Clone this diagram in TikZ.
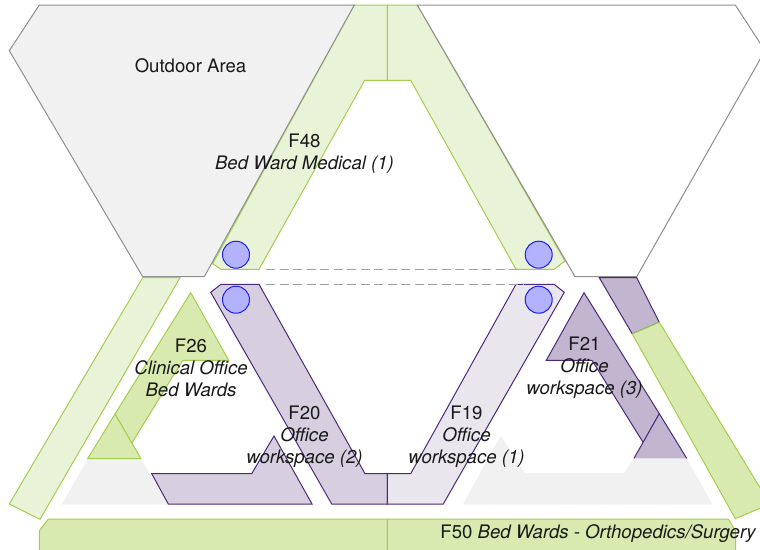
\documentclass[tikz,border=0pt]{standalone}
\usepackage{fontspec}
\setmainfont{TeX Gyre Heros}
\definecolor{grn}{HTML}{A4CE4E}
\definecolor{grnA}{HTML}{E9F3D7}
\definecolor{grnB}{HTML}{D8EAB0}
\definecolor{pur}{HTML}{4B2A7B}
\definecolor{purA}{HTML}{E9E6EE}
\definecolor{purB}{HTML}{D7CFE0}
\definecolor{purC}{HTML}{C1B5D0}
\definecolor{gryS}{HTML}{8F8F8F}
\definecolor{gryF}{HTML}{F1F1F1}
\definecolor{liftS}{HTML}{1E1EF0}
\definecolor{liftF}{HTML}{B2B2FF}
\tikzset{
  x=1pt,y=-1pt,
  outdoor/.style={draw=gryS,fill=gryF},
  blank/.style={draw=gryS,fill=white},
  ground/.style={fill=gryF,draw=none},
  greenA/.style={draw=grn,fill=grnA},
  greenB/.style={draw=grn,fill=grnB},
  purpleA/.style={draw=pur,fill=purA},
  purpleB/.style={draw=pur,fill=purB},
  purpleC/.style={draw=pur,fill=purC},
  lift/.style={circle,draw=liftS,fill=liftF,minimum size=27pt,inner sep=0pt},
  link/.style={draw=gryS!85,dash pattern=on 9pt off 4.5pt,line width=1pt},
  lab/.style={font=\fontsize{18.6}{22}\selectfont,align=center,inner sep=0pt,text=black!90}
}
\begin{document}
\begin{tikzpicture}[line width=1pt]
\useasboundingbox (0,0) rectangle (760,549);
\begin{scope}
\clip (0,0) rectangle (760,549);
% ground
\path[ground] (87.7,458.7) -- (61.7,504.7) -- (168.3,504.7) -- (141,458.7) -- cycle;
\path[ground] (500.7,435.7) -- (525,473) -- (624.3,473) -- (634,458.3) -- (686.7,458.3) -- (712.7,504.7) -- (462.7,504.7) -- cycle;
% wing F48
\draw[greenA] (354.3,5) -- (387.3,5) -- (387.3,80.3) -- (364.7,80.3) -- (259,269.3) -- (221,269.3) -- (212.7,263.7) -- cycle;
\draw[greenA] (387.3,5) -- (417.3,5) -- (565,261) -- (554,269.3) -- (516,269.3) -- (410.7,80.3) -- (387.3,80.3) -- cycle;
% outdoor areas
\draw[outdoor] (39.3,5) -- (354.3,5) -- (204.3,276.7) -- (142.7,276.7) -- (9.3,50.7) -- cycle;
\draw[blank] (417.3,5) -- (735.3,5) -- (765,50.7) -- (636.7,276.7) -- (575,276.7) -- cycle;
% left strip
\draw[greenA] (142.7,277.7) -- (180,277.7) -- (40,519.3) -- (9.3,504) -- cycle;
% F26
\draw[greenB] (190.7,292.7) -- (228.7,360.3) -- (182.7,360.3) -- (131.7,443.3) -- (115,414) -- cycle;
\draw[greenB] (115,414) -- (141,458.7) -- (87.7,458.7) -- cycle;
% F20
\draw[purpleB] (151.7,473.7) -- (251.7,473.7) -- (274,436) -- (312,504) -- (168.3,504) -- cycle;
\draw[purpleB] (210.7,292.3) -- (221,284.3) -- (259,284.3) -- (365,473.7) -- (387.3,473.7) -- (387.3,504) -- (331.7,504) -- cycle;
% F19
\draw[purpleA] (387.3,473.7) -- (410.7,473.7) -- (516,284.3) -- (554,284.3) -- (564.3,292.3) -- (443.3,504) -- (387.3,504) -- cycle;
% F21
\draw[purpleC] (584,292.7) -- (546.3,360.3) -- (592,360.3) -- (643.3,442.7) -- (659.3,413.7) -- cycle;
\path[fill=purC] (659.3,413.7) -- (686.7,458.3) -- (634,458.3) -- cycle;
\draw[pur] (634,458.3) -- (659.3,413.7) -- (686.7,458.3);
% right strip
\draw[purpleC] (599.3,277.7) -- (636.7,277.7) -- (659.3,322.3) -- (632.3,334) -- cycle;
\draw[greenB] (632.3,334) -- (659.3,322.3) -- (770,504) -- (735.3,518.7) -- cycle;
% F50
\draw[greenB] (48.3,519) -- (387.3,519) -- (387.3,555) -- (39.3,555) -- (39.3,531) -- cycle;
\draw[greenB] (387.3,519) -- (728.3,519) -- (735.7,531) -- (735.7,555) -- (387.3,555) -- cycle;
\end{scope}
% circulation
\node[lift] (l1) at (236,254.7) {};
\node[lift] (l2) at (538.7,254.7) {};
\node[lift] (l3) at (236,299.7) {};
\node[lift] (l4) at (538.7,299.7) {};
\coordinate (d1a) at (266,269.7);
\coordinate (d1b) at (523,269.7);
\coordinate (d2a) at (266,284.7);
\coordinate (d2b) at (523,284.7);
\draw[link] (d1a) -- (d1b);
\draw[link] (d2a) -- (d2b);
% labels
\node[lab] (t0) at (190.5,65.5) {Outdoor Area};
\node[lab] (t48) at (304.5,153.5) {F48\\\textit{Bed Ward Medical (1)}};
\node[lab] (t26) at (191,368) {F26\\\textit{Clinical Office}\\\textit{Bed Wards}};
\node[lab] (t20) at (304.5,437) {F20\\\textit{Office}\\\textit{workspace (2)}};
\node[lab] (t19) at (466.5,437) {F19\\\textit{Office}\\\textit{workspace (1)}};
\node[lab] (t21) at (584.5,368) {F21\\\textit{Office}\\\textit{workspace (3)}};
\node[lab] (t50) at (598.5,533.5) {F50 \textit{Bed Wards - Orthopedics/Surgery}};
\end{tikzpicture}
\end{document}
